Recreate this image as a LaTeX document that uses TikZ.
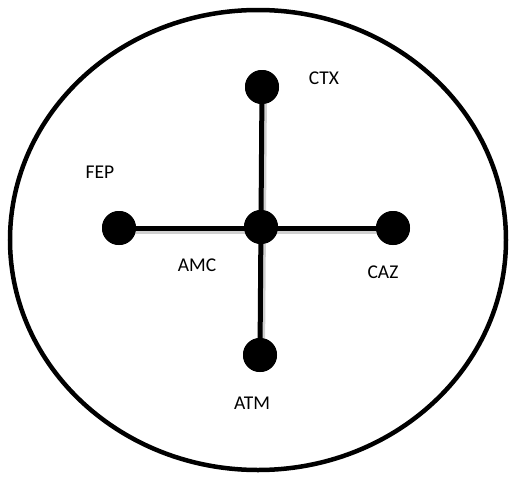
\documentclass[tikz,border=0pt]{standalone}
\usepackage{fontspec}
\setmainfont{Carlito}
\begin{document}
\begin{tikzpicture}[x=1pt,y=-1pt,
  dot/.style={circle,fill=black,inner sep=0pt,minimum size=34pt},
  link/.style={line width=5pt},
  shade/.style={line width=6pt,black!30,opacity=0.6},
  lbl/.style={font=\fontsize{19.5}{22}\selectfont,inner sep=0pt}]
\useasboundingbox (0,0) rectangle (509,479);
\fill[white] (0,0) rectangle (509,479);
\draw[line width=4.5pt] (258,240) ellipse [x radius=248, y radius=230];
\node[dot] (amc) at (261,227) {};
\node[dot] (ctx) at (262,87) {};
\node[dot] (fep) at (119,228) {};
\node[dot] (caz) at (393,228) {};
\node[dot] (atm) at (260,355) {};
\draw[shade] ([shift={(2,3)}]fep.center) -- ([shift={(2,3)}]caz.center);
\draw[shade] ([shift={(2,2)}]ctx.center) -- ([shift={(2,2)}]atm.center);
\draw[link] (fep.center) -- (caz.center);
\draw[link] (ctx.center) -- (atm.center);
\node[dot] at (amc) {};
\node[dot] at (ctx) {};
\node[dot] at (fep) {};
\node[dot] at (caz) {};
\node[dot] at (atm) {};
\node[lbl] (tctx) at (324,78) {CTX};
\node[lbl] (tfep) at (100,172) {FEP};
\node[lbl] (tamc) at (197,265) {AMC};
\node[lbl] (tcaz) at (383,272) {CAZ};
\node[lbl] (tatm) at (252,403) {ATM};
\end{tikzpicture}
\end{document}
